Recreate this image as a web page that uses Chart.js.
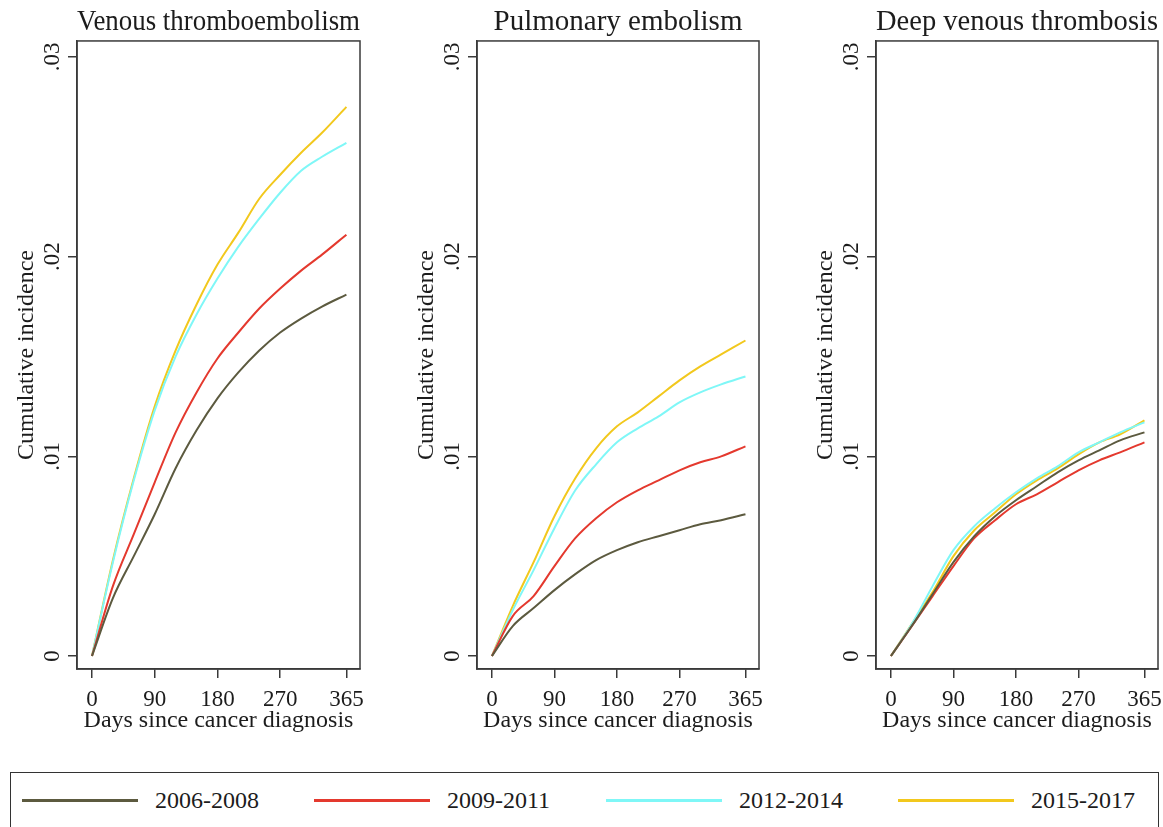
<!DOCTYPE html>
<html><head><meta charset="utf-8">
<script src="https://cdn.jsdelivr.net/npm/chart.js@4.4.1/dist/chart.umd.min.js"></script>
<style>
html,body{margin:0;padding:0;background:#fff;overflow:hidden;width:1163px;height:827px;}
canvas{position:absolute;top:0;}
#legend{position:absolute;left:10px;top:772px;width:1149px;height:80px;border:1.5px solid #333;box-sizing:border-box;}
.swatch{position:absolute;top:26px;width:116px;height:3px;}
.lab{position:absolute;top:12px;font:24px "Liberation Serif";color:#1c1c1c;white-space:nowrap;line-height:30px;}
</style></head><body>
<canvas id="c0" width="400" height="735" style="left:0px"></canvas>
<canvas id="c1" width="400" height="735" style="left:400px"></canvas>
<canvas id="c2" width="364" height="735" style="left:799px"></canvas>
<div id="legend"></div>
<script>
// ---- data ----
const days = [0, 30, 60, 90, 120, 150, 180, 210, 240, 270, 300, 330, 365];
const periods = ['2006-2008', '2009-2011', '2012-2014', '2015-2017'];
const panelTitles = ['Venous thromboembolism', 'Pulmonary embolism', 'Deep venous thrombosis'];
const xTitle = 'Days since cancer diagnosis';
const yTitle = 'Cumulative incidence';
const xTicks = [0, 90, 180, 270, 365];
const yTickValues = [0, 0.01, 0.02, 0.03];
const yTickLabels = ['0', '.01', '.02', '.03'];

const vte_2006 = [0, .0029, .0050, .0071, .0094, .0113, .0129, .0142, .0153, .0162, .0169, .0175, .0181];
const vte_2009 = [0, .0035, .0061, .0087, .0112, .0132, .0149, .0162, .0174, .0184, .0193, .0201, .0211];
const vte_2012 = [0, .0047, .0088, .0123, .0150, .0171, .0189, .0205, .0219, .0232, .0243, .0250, .0257];
const vte_2015 = [0, .0048, .0089, .0125, .0153, .0176, .0196, .0212, .0229, .0241, .0252, .0262, .0275];

const pe_2006 = [0, .0015, .0024, .0033, .0041, .0048, .0053, .0057, .0060, .0063, .0066, .0068, .0071];
const pe_2009 = [0, .0020, .0030, .0045, .0059, .0069, .0077, .0083, .0088, .0093, .0097, .0100, .0105];
const pe_2012 = [0, .0023, .0043, .0064, .0083, .0096, .0107, .0114, .0120, .0127, .0132, .0136, .0140];
const pe_2015 = [0, .0025, .0047, .0070, .0089, .0104, .0115, .0122, .0130, .0138, .0145, .0151, .0158];

const dvt_2006 = [0, .0015, .0031, .0047, .0060, .0070, .0078, .0085, .0092, .0098, .0103, .0108, .0112];
const dvt_2009 = [0, .0015, .0030, .0045, .0059, .0068, .0076, .0081, .0087, .0093, .0098, .0102, .0107];
const dvt_2012 = [0, .0016, .0035, .0053, .0065, .0074, .0082, .0089, .0095, .0102, .0107, .0112, .0117];
const dvt_2015 = [0, .0016, .0032, .0050, .0063, .0072, .0081, .0088, .0094, .0101, .0107, .0111, .0118];

const panelSeries = [
  [vte_2006, vte_2009, vte_2012, vte_2015],
  [pe_2006, pe_2009, pe_2012, pe_2015],
  [dvt_2006, dvt_2009, dvt_2012, dvt_2015]
];
const colors = ['#5c5a3f', '#e4392e', '#7ff7f7', '#f2c81d'];

// ---- layout ----
const padRights = [40, 41, 5];
const xMin = -21.5, xMax = 384.5;
const yMin = -0.00065, yMax = 0.0308;
const FONT = 'Liberation Serif';
const TXT = '#1c1c1c';
const AX = '#3a3a3a';

const framePlugin = {
  id: 'frame',
  beforeDatasetsDraw(c) {
    const a = c.chartArea, ctx = c.ctx;
    ctx.save();
    ctx.strokeStyle = AX; ctx.lineWidth = 1.5;
    ctx.strokeRect(a.left, a.top, a.right - a.left, a.bottom - a.top);
    ctx.restore();
  }
};

panelTitles.forEach((title, p) => {
  const cv = document.getElementById('c' + p);
  new Chart(cv, {
    type: 'line',
    data: {
      datasets: periods.map((lab, i) => ({
        label: lab,
        data: days.map((d, j) => ({x: d, y: panelSeries[p][i][j]})),
        borderColor: colors[i],
        borderWidth: 2,
        pointRadius: 0,
        fill: false,
        cubicInterpolationMode: 'monotone'
      }))
    },
    options: {
      responsive: false, animation: false, devicePixelRatio: 1,
      layout: {padding: {left: 0, right: padRights[p], top: 0, bottom: 0}},
      plugins: {
        legend: {display: false},
        tooltip: {enabled: false},
        title: {display: true, text: title, fullSize: false, color: TXT,
                font: {family: FONT, size: 29, weight: 'normal', lineHeight: 1.15}, padding: {top: 6, bottom: 1.6}}
      },
      scales: {
        x: {
          type: 'linear', min: xMin, max: xMax,
          afterBuildTicks: s => { s.ticks = xTicks.map(v => ({value: v})); },
          afterFit: s => { s.height = 66; s.paddingLeft = 0; s.paddingRight = 0; },
          ticks: {font: {family: FONT, size: 23}, color: TXT, padding: 8, maxRotation: 0, autoSkip: false,
                  callback: v => String(v)},
          grid: {drawOnChartArea: false, drawTicks: true, tickLength: 9, color: AX, lineWidth: 1.5},
          border: {display: true, color: AX, width: 1.5},
          title: {display: true, text: xTitle, color: TXT, font: {family: FONT, size: 24}, padding: {top: 0, bottom: 0}}
        },
        y: {
          type: 'linear', min: yMin, max: yMax,
          afterBuildTicks: s => { s.ticks = yTickValues.map(v => ({value: v})); },
          afterFit: s => { s.width = 77; s.paddingTop = 0; s.paddingBottom = 0; },
          ticks: {font: {family: FONT, size: 23}, color: TXT, padding: 1, minRotation: 90, maxRotation: 90,
                  crossAlign: 'center', autoSkip: false, callback: (v, i) => yTickLabels[i]},
          grid: {drawOnChartArea: false, drawTicks: true, tickLength: 9, color: AX, lineWidth: 1.5},
          border: {display: true, color: AX, width: 1.5},
          title: {display: true, text: yTitle, color: TXT, font: {family: FONT, size: 24}, padding: {top: 12.6, bottom: 0}}
        }
      }
    },
    plugins: [framePlugin]
  });
});

// ---- legend ----
const lg = document.getElementById('legend');
periods.forEach((p, i) => {
  const sw = document.createElement('div');
  sw.className = 'swatch';
  sw.style.left = (11 + i * 292) + 'px';
  sw.style.background = colors[i];
  lg.appendChild(sw);
  const t = document.createElement('div');
  t.className = 'lab';
  t.style.left = (144 + i * 292) + 'px';
  t.textContent = p;
  lg.appendChild(t);
});
</script>
</body></html>
